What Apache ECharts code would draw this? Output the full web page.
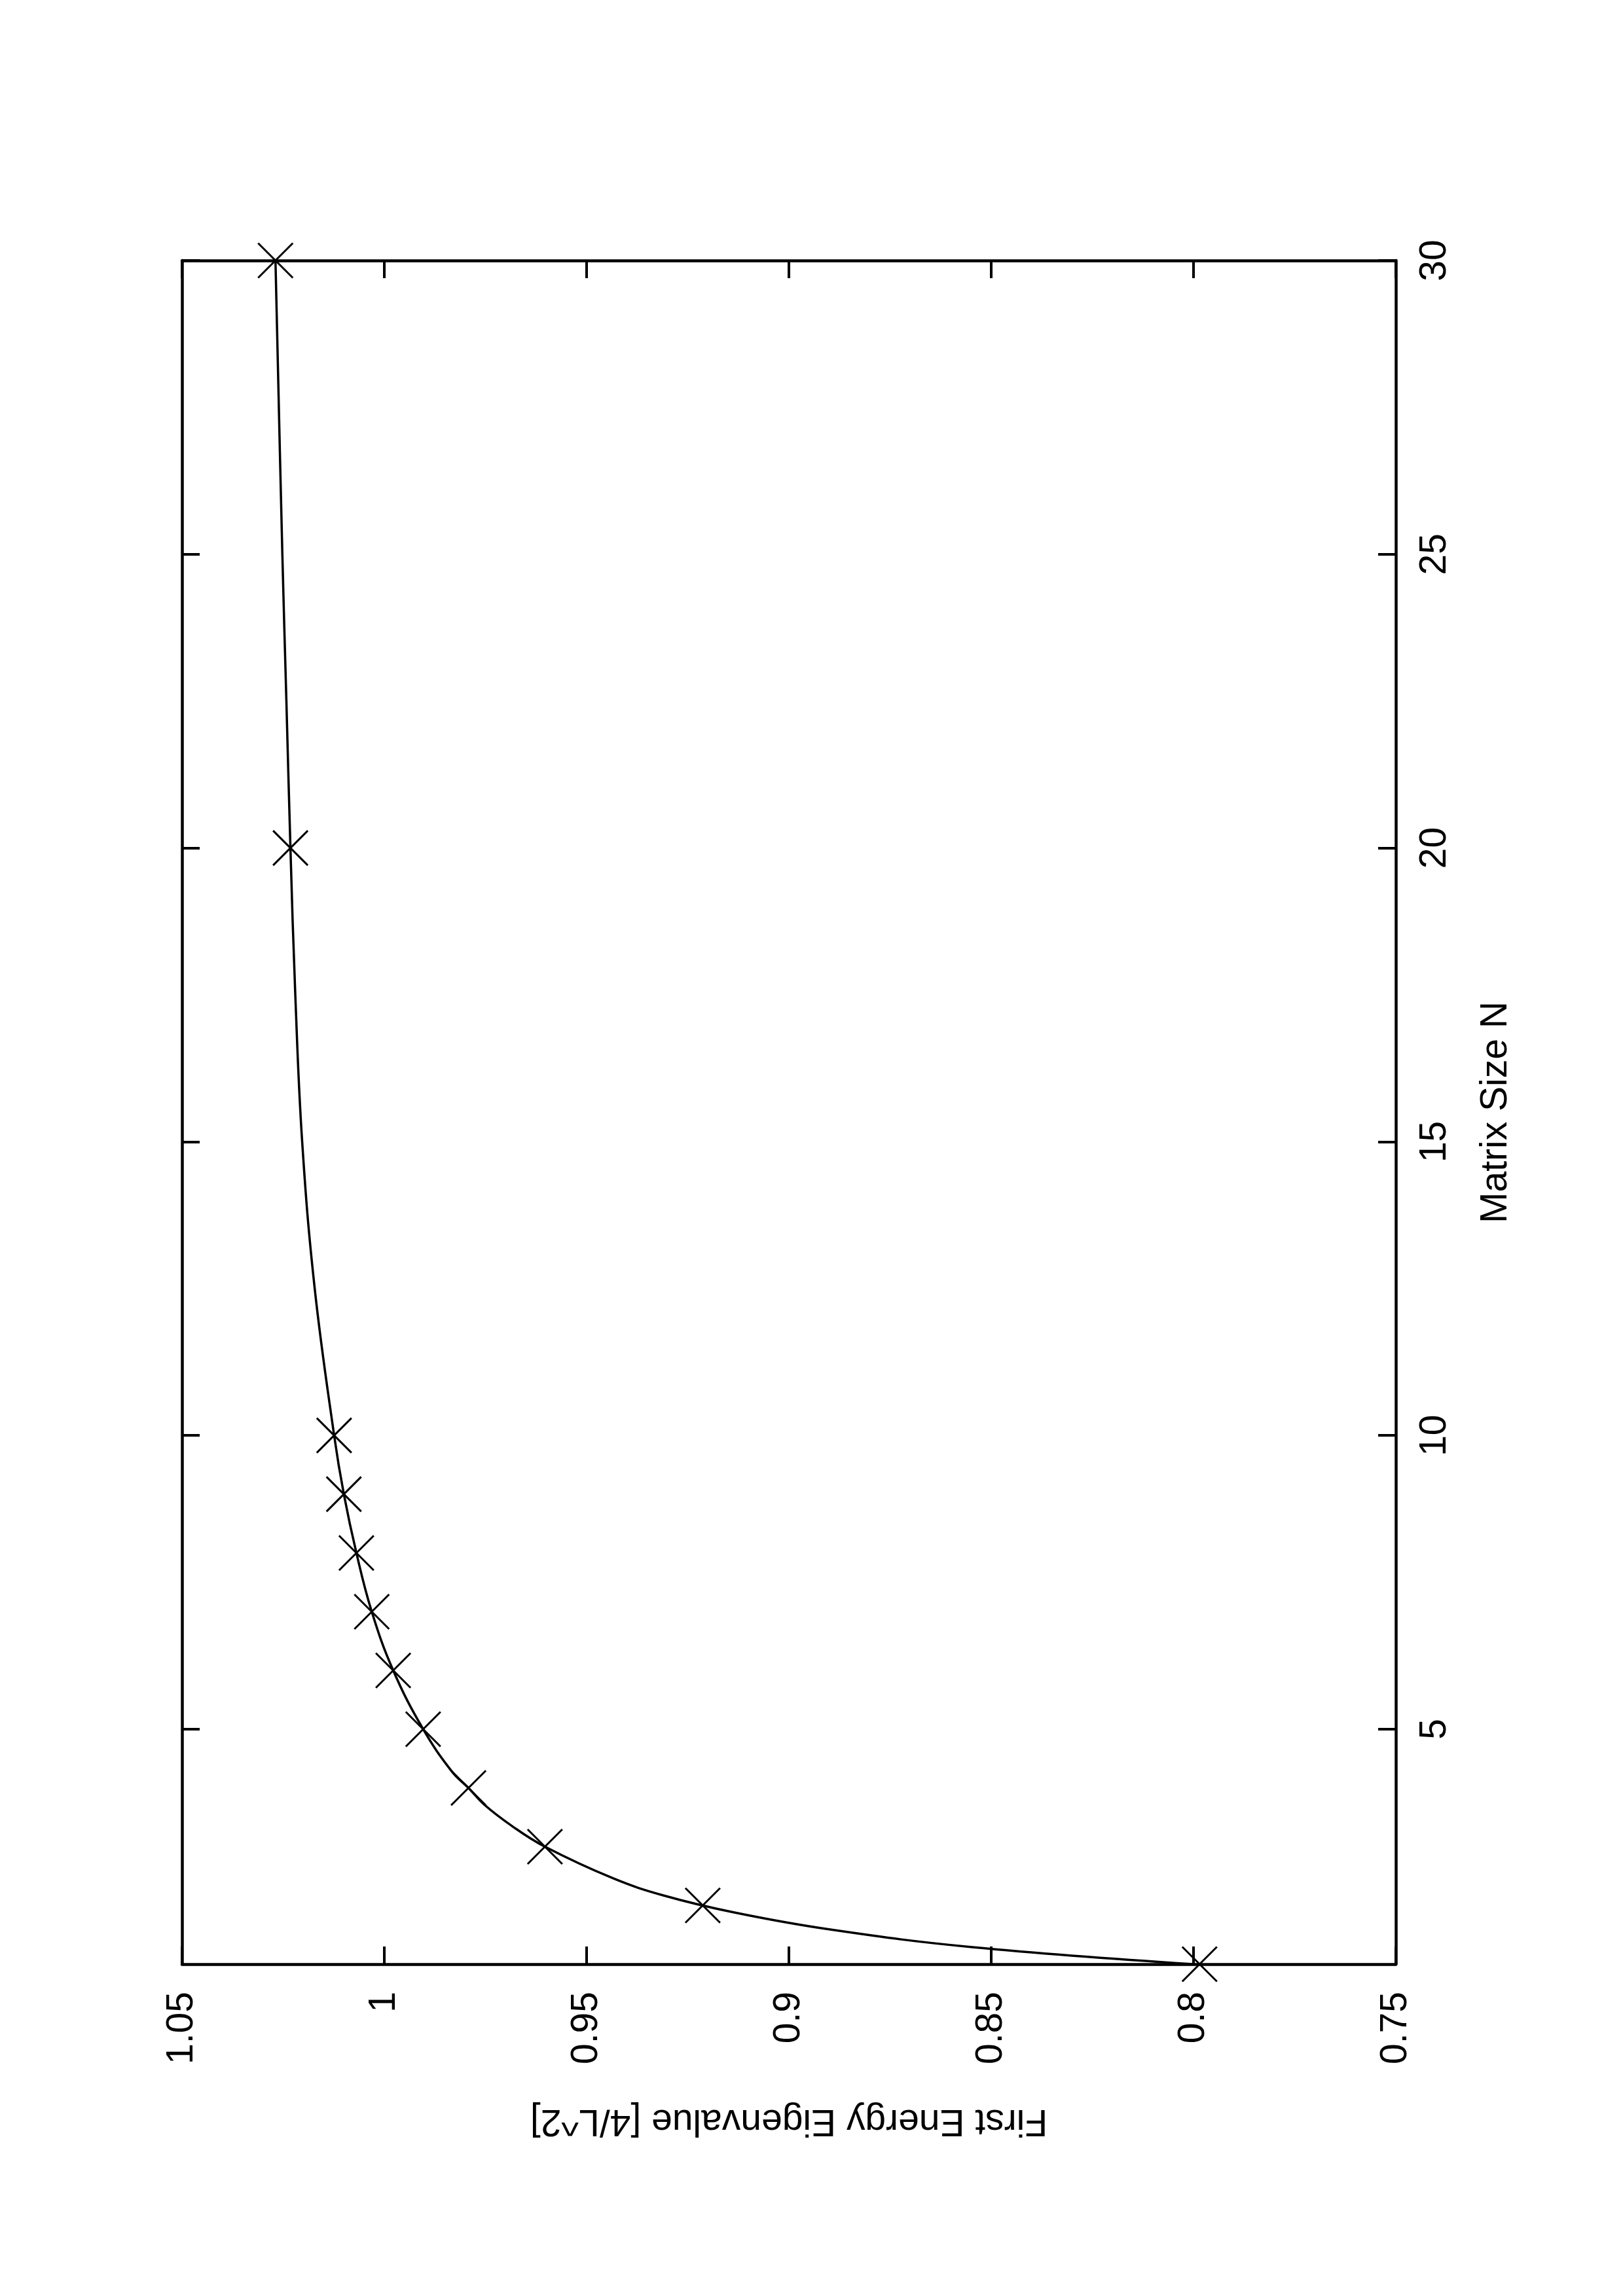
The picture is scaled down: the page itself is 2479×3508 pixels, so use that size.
<!DOCTYPE html>
<html>
<head>
<meta charset="utf-8">
<script src="https://cdn.jsdelivr.net/npm/echarts@6/dist/echarts.min.js"></script>
<style>
html,body{margin:0;padding:0;background:#fff;}
#chart{width:2479px;height:3508px;}
</style>
</head>
<body>
<div id="chart"></div>
<script>
// Data points (markers): matrix size N and first energy eigenvalue
var pointN = [1, 2, 3, 4, 5, 6, 7, 8, 9, 10, 20, 30];
var pointE = [0.7985, 0.9213, 0.9603, 0.9792, 0.9904, 0.9978, 1.0031, 1.0069, 1.0100, 1.0124, 1.0232, 1.0269];

// Smooth curve
var curveN = [1, 1.29, 1.59, 1.88, 2.17, 2.46, 3, 3.35, 3.71, 4, 4.28, 5, 6, 7, 8, 9, 10, 12.5, 15, 17.5, 20, 22.5, 25, 30];
var curveE = [0.800, 0.8547, 0.8898, 0.9135, 0.9310, 0.9434, 0.9603, 0.9684, 0.9752, 0.9792, 0.9833, 0.9904, 0.9978, 1.0031, 1.0069, 1.0100, 1.0124, 1.0172, 1.0203, 1.0220, 1.0232, 1.0242, 1.0252, 1.0269];

// Tick values
var nTicks = [5, 10, 15, 20, 25, 30];
var eMin = 0.75, eMax = 1.05, eStep = 0.05;
var nMin = 1, nMax = 30;

var xTitle = 'First Energy Eigenvalue [4/L^2]';
var yTitle = 'Matrix Size N';

var FONT = '"Liberation Sans", Arial, Helvetica, sans-serif';
var FS = 57;

var chart = echarts.init(document.getElementById('chart'), null, {renderer: 'canvas'});

var lineStyleAxis = {color: '#000', width: 4.5};
var tickStyle = {color: '#000', width: 4};

var option = {
  backgroundColor: '#fff',
  animation: false,
  grid: {left: 278, right: 347, top: 398, bottom: 507, containLabel: false},
  xAxis: [
    {
      type: 'value', position: 'bottom', min: eMin, max: eMax, interval: eStep, inverse: true,
      axisLine: {show: true, onZero: false, lineStyle: lineStyleAxis},
      axisTick: {show: true, inside: true, length: 27, lineStyle: tickStyle},
      axisLabel: {show: true, rotate: 90, margin: 42, fontSize: FS, fontFamily: FONT, color: '#000'},
      splitLine: {show: false},
      name: xTitle, nameLocation: 'middle', nameRotate: 180, nameGap: 210,
      nameTextStyle: {fontSize: FS, fontFamily: FONT, color: '#000'}
    },
    {
      type: 'value', position: 'top', min: eMin, max: eMax, interval: eStep, inverse: true,
      axisLine: {show: true, onZero: false, lineStyle: lineStyleAxis},
      axisTick: {show: true, inside: true, length: 27, lineStyle: tickStyle},
      axisLabel: {show: false},
      splitLine: {show: false}
    }
  ],
  yAxis: [
    {
      type: 'value', position: 'right', min: nMin, max: nMax,
      axisLine: {show: true, onZero: false, lineStyle: lineStyleAxis},
      axisTick: {show: true, inside: true, length: 27, lineStyle: tickStyle, customValues: nTicks},
      axisLabel: {show: true, rotate: 90, margin: 32, fontSize: FS, fontFamily: FONT, color: '#000', customValues: nTicks},
      splitLine: {show: false},
      name: yTitle, nameLocation: 'middle', nameRotate: 90, nameGap: 125,
      nameTextStyle: {fontSize: FS, fontFamily: FONT, color: '#000'}
    },
    {
      type: 'value', position: 'left', min: nMin, max: nMax,
      axisLine: {show: true, onZero: false, lineStyle: lineStyleAxis},
      axisTick: {show: true, inside: true, length: 27, lineStyle: tickStyle, customValues: nTicks},
      axisLabel: {show: false},
      splitLine: {show: false}
    }
  ],
  series: [
    {
      type: 'line', xAxisIndex: 0, yAxisIndex: 0,
      data: curveN.map(function (n, i) { return [curveE[i], n]; }),
      showSymbol: false, smooth: 0.4,
      lineStyle: {color: '#000', width: 3.5},
      z: 2
    },
    {
      type: 'scatter', xAxisIndex: 0, yAxisIndex: 0,
      data: pointN.map(function (n, i) { return [pointE[i], n]; }),
      symbol: 'path://M0 0L10 10M10 0L0 10', symbolSize: 53, symbolKeepAspect: true,
      itemStyle: {color: 'rgba(0,0,0,0)', borderColor: '#000', borderWidth: 3, opacity: 1},
      z: 3
    }
  ]
};
chart.setOption(option);
</script>
</body>
</html>
